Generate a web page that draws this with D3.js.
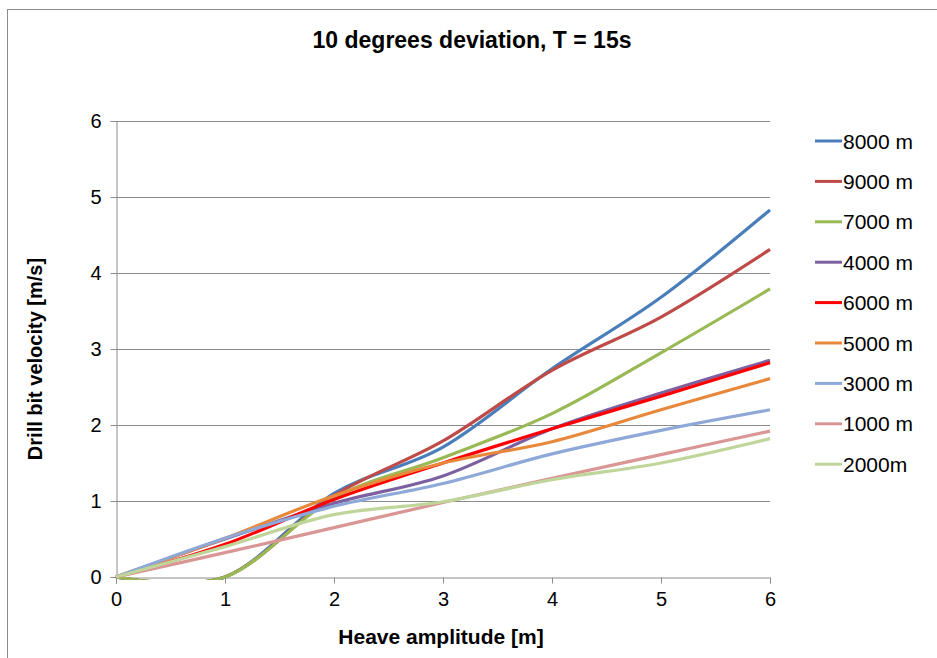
<!DOCTYPE html>
<html><head><meta charset="utf-8">
<script src="https://cdn.jsdelivr.net/npm/d3@7"></script>
<style>body{margin:0;background:#fff;} svg{display:block;}</style>
</head><body>
<svg id="c" width="937" height="658"></svg>
<script>
const heave = [0, 1, 2, 3, 4, 5, 6];
const xTicks = [0, 1, 2, 3, 4, 5, 6];
const yTicks = [0, 1, 2, 3, 4, 5, 6];
const seriesNames = ["8000 m", "9000 m", "7000 m", "4000 m", "6000 m", "5000 m", "3000 m", "1000 m", "2000m"];
const v8000 = [0, 0, 1.10, 1.71, 2.74, 3.68, 4.83];
const v9000 = [0, 0, 1.07, 1.79, 2.72, 3.42, 4.31];
const v7000 = [0, 0, 1.04, 1.57, 2.15, 2.95, 3.79];
const v4000 = [0, 0.50, 0.97, 1.33, 1.95, 2.42, 2.85];
const v6000 = [0, 0.43, 1.02, 1.50, 1.95, 2.38, 2.82];
const v5000 = [0, 0.51, 1.07, 1.50, 1.78, 2.20, 2.61];
const v3000 = [0, 0.51, 0.93, 1.23, 1.62, 1.93, 2.20];
const v1000 = [0, 0.32, 0.65, 0.98, 1.30, 1.61, 1.92];
const v2000 = [0, 0.40, 0.82, 0.99, 1.28, 1.50, 1.82];
const allValues = [v8000, v9000, v7000, v4000, v6000, v5000, v3000, v1000, v2000];
const colors = ["#4A7EBB", "#BE4B48", "#98B954", "#7D60A0", "#FF0000", "#E8883A", "#8EA9D8", "#D99694", "#BFD59A"];

const svg = d3.select("#c");
const font = "'Liberation Sans','Arial',sans-serif";

svg.append("rect").attr("x", 7.5).attr("y", 9.5).attr("width", 1000).attr("height", 1000)
  .attr("fill", "none").attr("stroke", "#8c8c8c").attr("stroke-width", 1);

const x = d3.scaleLinear().domain([0, 6]).range([116, 770]);
const y = d3.scaleLinear().domain([0, 6]).range([577, 121]);

svg.append("clipPath").attr("id", "plotclip").append("rect")
  .attr("x", x(0) - 3).attr("y", y(6) - 3).attr("width", x(6) - x(0) + 6).attr("height", y(0) - y(6) + 6);

// gridlines
svg.append("g").selectAll("line").data(yTicks.filter(d => d > 0)).join("line")
  .attr("x1", x(0)).attr("x2", x(6))
  .attr("y1", d => Math.round(y(d)) + 0.5).attr("y2", d => Math.round(y(d)) + 0.5)
  .attr("stroke", "#8c8c8c").attr("stroke-width", 1);

// axes
const xAxis = svg.append("g").attr("transform", `translate(0,${Math.round(y(0)) + 0.5})`)
  .call(d3.axisBottom(x).tickValues(xTicks).tickSize(6).tickPadding(8).tickFormat(d3.format("d")));
const yAxis = svg.append("g").attr("transform", `translate(${Math.round(x(0)) + 0.5},0)`)
  .call(d3.axisLeft(y).tickValues(yTicks).tickSize(6).tickPadding(9).tickFormat(d3.format("d")));
[xAxis, yAxis].forEach(a => {
  a.select(".domain").attr("stroke", "#8c8c8c");
  a.selectAll(".tick line").attr("stroke", "#8c8c8c");
  a.selectAll("text").attr("font-family", font).attr("font-size", 20).attr("fill", "#000");
});

// lines
const line = d3.line().x((d, i) => x(heave[i])).y(d => y(d)).curve(d3.curveCardinal.tension(0));
svg.append("g").attr("clip-path", "url(#plotclip)").selectAll("path").data(allValues).join("path")
  .attr("d", d => line(d)).attr("fill", "none")
  .attr("stroke", (d, i) => colors[i]).attr("stroke-width", 3.2).attr("stroke-linejoin", "round");

// titles
svg.append("text").attr("x", 472).attr("y", 48).attr("text-anchor", "middle")
  .attr("font-family", font).attr("font-weight", "bold").attr("font-size", 23).text("10 degrees deviation, T = 15s");
svg.append("text").attr("x", 441).attr("y", 644).attr("text-anchor", "middle")
  .attr("font-family", font).attr("font-weight", "bold").attr("font-size", 21).text("Heave amplitude [m]");
svg.append("text").attr("transform", `translate(42,359) rotate(-90)`).attr("text-anchor", "middle")
  .attr("font-family", font).attr("font-weight", "bold").attr("font-size", 20).text("Drill bit velocity [m/s]");

// legend
const lg = svg.append("g").selectAll("g").data(seriesNames).join("g")
  .attr("transform", (d, i) => `translate(815,${141 + i * 40.4})`);
lg.append("line").attr("x1", 0).attr("x2", 27).attr("y1", 0).attr("y2", 0)
  .attr("stroke", (d, i) => colors[i]).attr("stroke-width", 3);
lg.append("text").attr("x", 28).attr("y", 7.5).attr("font-family", font).attr("font-size", 21).text(d => d);
</script>
</body></html>
